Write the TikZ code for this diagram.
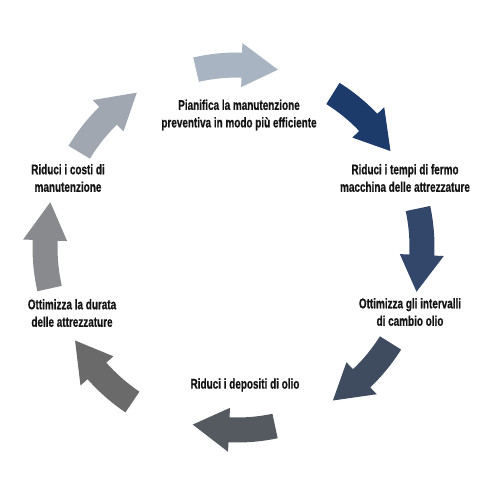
\documentclass[tikz,border=0pt]{standalone}
\usepackage{fontspec}
\newfontfamily\labfont[FakeStretch=0.71,FakeBold=0.6]{Liberation Sans}
\definecolor{cA}{HTML}{A9B4C2}
\definecolor{cB}{HTML}{1C3A6A}
\definecolor{cC}{HTML}{33476A}
\definecolor{cD}{HTML}{3F4C60}
\definecolor{cE}{HTML}{555A61}
\definecolor{cF}{HTML}{6A6A6B}
\definecolor{cG}{HTML}{888A8D}
\definecolor{cH}{HTML}{A0A7B0}
\definecolor{txt}{HTML}{141414}
\newcommand\cyclearrow[3]{%
  \fill[#3] (#1-13:#2+12.5) arc[start angle=#1-13,end angle=#1+1.5,radius=#2+12.5]
    -- (#1+1.5:#2+22) -- (#1+13:#2) -- (#1+1.5:#2-22) -- (#1+1.5:#2-12.5)
    arc[start angle=#1+1.5,end angle=#1-13,radius=#2-12.5] -- cycle;}
\begin{document}
\begin{tikzpicture}[x=1pt,y=-1pt,
  lab/.style={font=\labfont\bfseries\fontsize{14}{17.5}\selectfont, align=center, text=txt, inner sep=0pt}]
\useasboundingbox (0,0) rectangle (501,500);
\fill[white] (0,0) rectangle (501,500);
\begin{scope}[shift={(237,247)}]
  \cyclearrow{-90}{182}{cA}
  \cyclearrow{-45}{181}{cB}
  \cyclearrow{1}{185}{cC}
  \cyclearrow{45}{181}{cD}
  \cyclearrow{91}{183}{cE}
  \cyclearrow{137}{187}{cF}
  \cyclearrow{180.5}{192}{cG}
  \cyclearrow{224}{184}{cH}
\end{scope}
\node[lab] (t1) at (239,115) {Pianifica la manutenzione\\preventiva in modo più efficiente};
\node[lab] (t2) at (405,178) {Riduci i tempi di fermo\\macchina delle attrezzature};
\node[lab] (t3) at (410,312) {Ottimizza gli intervalli\\di cambio olio};
\node[lab] (t4) at (245,385) {Riduci i depositi di olio};
\node[lab] (t5) at (72,313) {Ottimizza la durata\\delle attrezzature};
\node[lab] (t6) at (68,178) {Riduci i costi di\\manutenzione};
\end{tikzpicture}
\end{document}
